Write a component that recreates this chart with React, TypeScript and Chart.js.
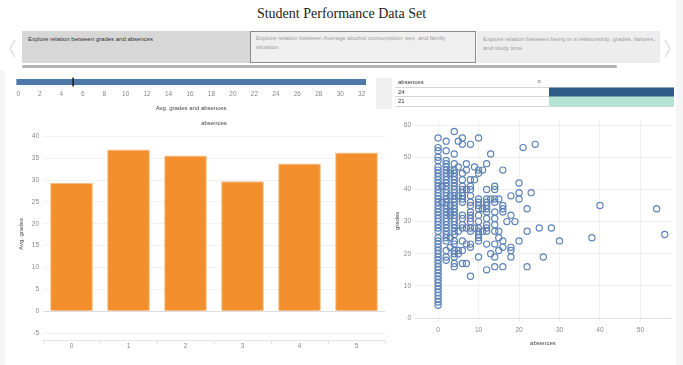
import React, { useEffect, useRef } from "react";
import { Chart, registerables } from "chart.js";

Chart.register(...registerables);

const FONT = "'Liberation Sans', Arial, sans-serif";
Chart.defaults.font.family = FONT;

// ---------- data ----------
const pageTitle = "Student Performance Data Set";
const storyCaptions = [
  "Explore relation between grades and absences",
  "Explore relation between Average alcohol consumption, sex, and family\nsituation",
  "Explore relation between being in a relationship, grades, failures,\nand study time",
];

const sliderTicks = [0, 2, 4, 6, 8, 10, 12, 14, 16, 18, 20, 22, 24, 26, 28, 30, 32];
const sliderRange = [-0.2, 32.4];
const sliderValue = 5.1;
const sliderTitle = "Avg. grades and absences";

const tableHeader = "absences";
const tableRows = ["24", "21"];
const tableValues = [1, 1];
const tableColors = ["#2e5a88", "#b6e3d4"];

const barCategories = ["0", "1", "2", "3", "4", "5"];
const barValues = [29.4, 37.0, 35.6, 29.7, 33.8, 36.3];
const barYTicks = [-5, 0, 5, 10, 15, 20, 25, 30, 35, 40];

const scatterXTicks = [0, 10, 20, 30, 40, 50];
const scatterYTicks = [0, 10, 20, 30, 40, 50, 60];
// [absences, grades of students with that many absences]
const scatterColumns: [number, number[]][] = [
  [0, [56, 53, 52, 50, 49, 47, 46, 45, 44, 43, 42, 41, 40, 39, 38, 37, 36, 35, 34, 33, 32, 31, 30, 29, 28, 27, 25, 24, 23, 22, 21, 20, 19, 18, 17, 16, 15, 14, 13, 12, 11, 10, 9, 8, 7, 6, 5, 4]],
  [1, [41, 36]],
  [2, [55, 52, 49, 48, 47, 46, 45, 44, 43, 42, 41, 40, 39, 38, 37, 36, 35, 34, 33, 32, 31, 30, 29, 28, 27, 26, 25, 24, 21, 19, 18]],
  [3, [46, 45, 38, 35, 33, 32, 25, 22]],
  [4, [58, 51, 48, 46, 45, 44, 43, 42, 41, 40, 39, 38, 37, 36, 35, 34, 33, 32, 31, 30, 29, 28, 27, 26, 24, 23, 21, 20, 19, 17, 16]],
  [5, [55, 47, 38, 27, 21, 20]],
  [6, [56, 54, 45, 43, 41, 40, 39, 38, 37, 36, 32, 31, 29, 28, 24, 21, 17]],
  [7, [48, 46, 40, 28, 23, 17]],
  [8, [54, 43, 41, 40, 38, 36, 35, 33, 32, 31, 30, 28, 27, 23, 22, 13]],
  [9, [47, 43, 28]],
  [10, [56, 46, 45, 37, 36, 35, 34, 32, 30, 28, 27, 26, 25, 24, 19]],
  [11, [46, 34, 27]],
  [12, [48, 40, 37, 36, 35, 34, 33, 31, 29, 28, 27, 23, 15]],
  [13, [51, 37, 20]],
  [14, [41, 40, 37, 36, 33, 31, 29, 27, 23, 19, 16]],
  [15, [37, 27, 25, 21]],
  [16, [46, 35, 34, 33, 24, 22, 16]],
  [17, [30]],
  [18, [38, 32, 22, 21, 19]],
  [19, [30]],
  [20, [42, 39, 37, 24]],
  [21, [53]],
  [22, [34, 27, 16]],
  [23, [39]],
  [24, [54]],
  [25, [28]],
  [26, [19]],
  [28, [28]],
  [30, [24]],
  [38, [25]],
  [40, [35]],
  [54, [34]],
  [56, [26]],
];

// ---------- helpers ----------
const fixedTicks = (vals: number[]) => (s: any) => {
  s.ticks = vals.map((v) => ({ value: v }));
};

function ChartCanvas({ left, top, width, height, config }: any) {
  const ref = useRef<HTMLCanvasElement | null>(null);
  useEffect(() => {
    if (!ref.current) return;
    const chart = new Chart(ref.current, config);
    return () => chart.destroy();
  }, []);
  return (
    <canvas
      ref={ref}
      width={width}
      height={height}
      style={{ position: "absolute", left, top, width, height }}
    />
  );
}

const baseOptions = {
  responsive: false,
  animation: false as const,
  events: [] as any[],
};

const noPlugins = {
  legend: { display: false },
  tooltip: { enabled: false },
};

// ---------- configs ----------
const sliderConfig: any = {
  type: "scatter",
  data: {
    datasets: [
      {
        data: [{ x: sliderValue, y: 0 }],
        pointStyle: "line",
        rotation: 90,
        pointRadius: 4.5,
        borderColor: "#1c1c1c",
        borderWidth: 1.5,
      },
      {
        data: sliderRange.map((x) => ({ x, y: 0 })),
        showLine: true,
        borderColor: "#4e78a8",
        borderWidth: 6,
        borderCapStyle: "butt",
        pointRadius: 0,
      },
    ],
  },
  options: {
    ...baseOptions,
    layout: { padding: { left: 8.2, right: 12, top: 6, bottom: 0 } },
    plugins: noPlugins,
    scales: {
      x: {
        type: "linear",
        min: sliderRange[0],
        max: sliderRange[1],
        afterBuildTicks: fixedTicks(sliderTicks),
        grid: { display: false, drawTicks: false },
        border: { display: false },
        ticks: { font: { size: 6.5 }, color: "#888", padding: 2, maxRotation: 0, autoSkip: false },
        title: {
          display: true,
          text: sliderTitle,
          font: { size: 6 },
          color: "#444",
          padding: { top: 4, bottom: 2.8 },
        },
        afterFit: (s: any) => {
          s.height = 27;
        },
      },
      y: { display: false, min: -1, max: 1 },
    },
  },
};

const tableConfig: any = {
  type: "bar",
  data: {
    labels: tableRows,
    datasets: [
      {
        data: tableValues,
        backgroundColor: tableColors,
        barPercentage: 1,
        categoryPercentage: 1,
        borderWidth: 0,
      },
    ],
  },
  options: {
    ...baseOptions,
    indexAxis: "y",
    layout: { padding: { left: 3, right: 3, top: 11.5, bottom: 3 } },
    plugins: noPlugins,
    scales: {
      x: { display: false, min: 0, max: 1 },
      y: {
        grid: { offset: true, color: "#d6d6d6", tickLength: 154 },
        border: { display: false },
        ticks: { crossAlign: "far", font: { size: 6 }, color: "#333", padding: 0, autoSkip: false },
        afterFit: (s: any) => {
          s.width = 151;
        },
      },
    },
  },
};

const barConfig: any = {
  type: "bar",
  data: {
    labels: barCategories,
    datasets: [
      {
        data: barValues,
        backgroundColor: "#f28e2b",
        borderColor: "#f8c08a",
        borderWidth: 1,
        barPercentage: 0.75,
        categoryPercentage: 1,
      },
    ],
  },
  options: {
    ...baseOptions,
    layout: { padding: { left: 0, right: 5, top: 0, bottom: 0 } },
    plugins: {
      ...noPlugins,
      title: {
        display: true,
        text: "absences",
        fullSize: false,
        font: { size: 6, weight: "normal" },
        color: "#444",
        padding: { top: 8.2, bottom: 0.6 },
      },
    },
    scales: {
      x: {
        grid: { offset: true, drawOnChartArea: false, tickLength: 4, color: "#e4e4e4" },
        border: { color: "#e4e4e4" },
        ticks: { font: { size: 6.5 }, color: "#888", padding: -2 },
        afterFit: (s: any) => {
          s.height = 15;
        },
      },
      y: {
        min: -6.6,
        max: 41.9,
        afterBuildTicks: fixedTicks(barYTicks),
        grid: {
          drawTicks: false,
          color: (c: any) => (c.tick && c.tick.value === 0 ? "#dddddd" : "#f1f1f1"),
        },
        border: { display: false },
        ticks: { font: { size: 6.5 }, color: "#888", padding: 4 },
        title: {
          display: true,
          text: "Avg. grades",
          font: { size: 6 },
          color: "#444",
          padding: { top: 9.8, bottom: 0 },
        },
        afterFit: (s: any) => {
          s.width = 35;
        },
      },
    },
  },
};

const scatterPoints = scatterColumns.flatMap(([x, ys]) => ys.map((y) => ({ x, y })));

const scatterConfig: any = {
  type: "scatter",
  data: {
    datasets: [
      {
        data: scatterPoints,
        pointRadius: 3.1,
        pointBorderWidth: 1.2,
        pointBorderColor: "#5f83b8",
        pointBackgroundColor: "rgba(255,255,255,0)",
      },
    ],
  },
  options: {
    ...baseOptions,
    layout: { padding: { left: 0, right: 3, top: 7, bottom: 0 } },
    plugins: noPlugins,
    scales: {
      x: {
        type: "linear",
        min: -5.7,
        max: 57.5,
        afterBuildTicks: fixedTicks(scatterXTicks),
        grid: { drawTicks: false, color: "#f0f0f0" },
        border: { display: false },
        ticks: { font: { size: 6.5 }, color: "#888", padding: 4.4 },
        title: {
          display: true,
          text: "absences",
          font: { size: 6 },
          color: "#444",
          padding: { top: 4, bottom: 8.4 },
        },
        afterFit: (s: any) => {
          s.height = 33;
        },
      },
      y: {
        min: -1.2,
        max: 61.6,
        afterBuildTicks: fixedTicks(scatterYTicks),
        grid: {
          drawTicks: false,
          color: (c: any) => (c.tick && c.tick.value === 0 ? "#e2e2e2" : "#f0f0f0"),
        },
        border: { display: false },
        ticks: { font: { size: 6.5 }, color: "#888", padding: 4 },
        title: {
          display: true,
          text: "grades",
          font: { size: 6 },
          color: "#444",
          padding: { top: 3.4, bottom: 0 },
        },
        afterFit: (s: any) => {
          s.width = 25;
        },
      },
    },
  },
};

// ---------- layout ----------
const storyBoxes = [
  { left: 22, width: 228, bg: "#d7d7d7", color: "#333", border: "none" },
  { left: 250, width: 226, bg: "#efefef", color: "#a0a0a0", border: "1.5px solid #8a8a8a" },
  { left: 477, width: 183, bg: "#ededed", color: "#a0a0a0", border: "none" },
];

export default function App() {
  return (
    <div
      style={{
        position: "absolute",
        left: 0,
        top: 0,
        width: 683,
        height: 365,
        background: "#ffffff",
        overflow: "hidden",
        fontFamily: FONT,
      }}
    >
      <div style={{ position: "absolute", left: 0, top: 70, width: 5, height: 295, background: "#f5f5f5" }} />
      <div style={{ position: "absolute", left: 676, top: 0, width: 7, height: 365, background: "#f5f5f5" }} />

      <div
        style={{
          position: "absolute",
          left: 0,
          top: 5,
          width: 683,
          textAlign: "center",
          fontFamily: "'Liberation Serif', 'Times New Roman', serif",
          fontSize: 14,
          lineHeight: "18px",
          color: "#222",
        }}
      >
        {pageTitle}
      </div>

      <svg style={{ position: "absolute", left: 6, top: 38, width: 12, height: 22 }}>
        <polyline points="9,2 4,10.5 9,19" fill="none" stroke="#cfcfcf" strokeWidth="1" />
      </svg>
      <svg style={{ position: "absolute", left: 662, top: 38, width: 12, height: 22 }}>
        <polyline points="3,2 8,10.5 3,19" fill="none" stroke="#cfcfcf" strokeWidth="1" />
      </svg>

      {storyBoxes.map((b, i) => (
        <div
          key={i}
          style={{
            position: "absolute",
            left: b.left,
            top: 31,
            width: b.width,
            height: 32,
            boxSizing: "border-box",
            background: b.bg,
            border: b.border,
            padding: i === 1 ? "2px 5px" : "3.5px 4px 3.5px 6px",
            fontSize: 6,
            lineHeight: "9px",
            color: b.color,
            overflow: "hidden",
            whiteSpace: "pre",
          }}
        >
          {storyCaptions[i]}
        </div>
      ))}
      <div
        style={{
          position: "absolute",
          left: 22,
          top: 65,
          width: 595,
          height: 3,
          borderRadius: 2,
          background: "#b3b3b3",
        }}
      />

      <ChartCanvas left={8} top={70} width={370} height={45} config={sliderConfig} />

      <div style={{ position: "absolute", left: 376, top: 78, width: 16, height: 31, background: "#f0f0f0" }} />
      <div style={{ position: "absolute", left: 398, top: 78, fontSize: 6, lineHeight: "9px", color: "#333" }}>
        {tableHeader}
      </div>
      <div style={{ position: "absolute", left: 537, top: 77, fontSize: 7, lineHeight: "9px", color: "#777" }}>
        ≡
      </div>
      <ChartCanvas left={395} top={76} width={282} height={34} config={tableConfig} />

      <ChartCanvas left={8} top={112} width={382} height={243} config={barConfig} />
      <ChartCanvas left={390} top={112} width={286} height={243} config={scatterConfig} />
    </div>
  );
}
